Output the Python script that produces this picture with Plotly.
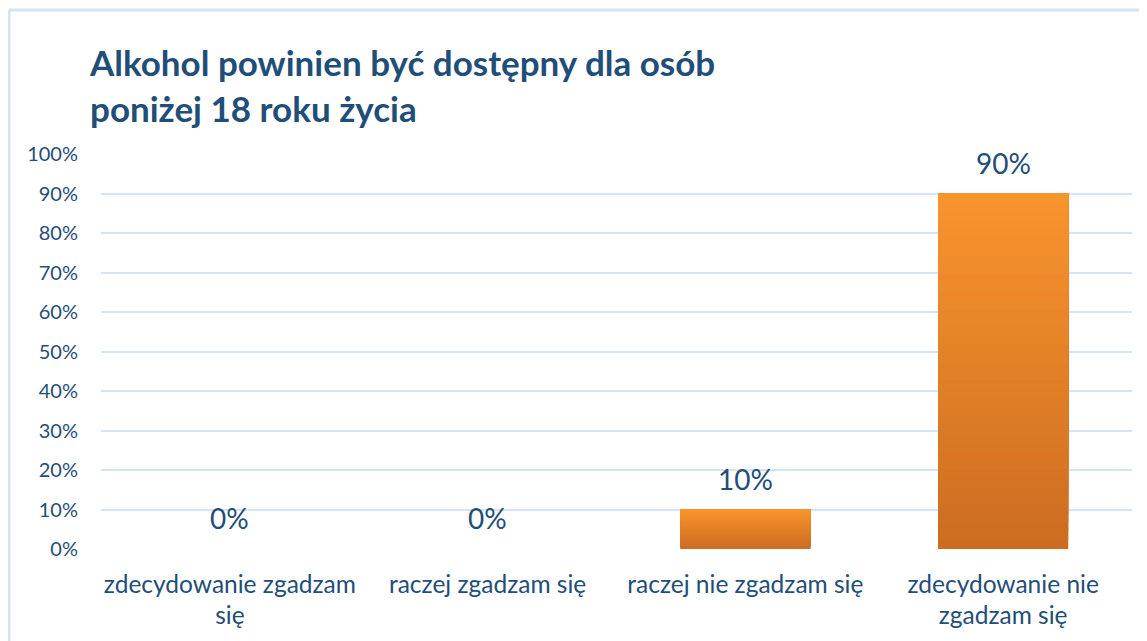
import plotly.graph_objects as go

categories = ["zdecydowanie zgadzam<br>się", "raczej zgadzam się", "raczej nie zgadzam się", "zdecydowanie nie<br>zgadzam się"]
values = [0, 0, 10, 90]
title_text = "Alkohol powinien być dostępny dla osób<br>poniżej 18 roku życia"
tick_vals = [0, 10, 20, 30, 40, 50, 60, 70, 80, 90, 100]
tick_text = [f"{v}%" for v in tick_vals]

TXT = "#1F4E79"
GRID = "#D6E3F3"
FONT = "Lato"

W, H = 1139, 633
ML, MR, MT, MB = 93, 15, 146, 92
PW, PH = W - ML - MR, H - MT - MB

top_rgb = (0xF9, 0x94, 0x2E)
bot_rgb = (0xCC, 0x6C, 0x20)
N = 40

fig = go.Figure()
for i in range(N):
    f = (i + 0.5) / N
    c = tuple(round(bot_rgb[k] + (top_rgb[k] - bot_rgb[k]) * f) for k in range(3))
    fig.add_trace(go.Bar(
        x=categories,
        y=[v * (1 - i / N) for v in values],
        base=[v * i / N for v in values],
        marker=dict(color=f"rgb{c}", line=dict(width=0)),
        width=0.505,
        hoverinfo="skip",
        showlegend=False,
    ))

annotations = [
    dict(x=cat, y=v, xref="x", yref="y", text=f"{v}%", showarrow=False,
         yanchor="bottom", yshift=12, font=dict(family=FONT, size=28, color=TXT))
    for cat, v in zip(categories, values)
]

fig.update_layout(
    width=W, height=H,
    barmode="overlay",
    paper_bgcolor="white", plot_bgcolor="white",
    margin=dict(l=ML, r=MR, t=MT, b=MB),
    title=dict(text=title_text, x=82 / W, xanchor="left", xref="container",
               y=1 - 68 / H, yanchor="top", yref="container",
               font=dict(family=FONT, size=35, color=TXT, weight="bold")),
    xaxis=dict(showgrid=False, zeroline=False, showline=False,
               tickfont=dict(family=FONT, size=24.5, color=TXT), ticks="",
               ticklabelstandoff=18),
    yaxis=dict(range=[0, 100], tickvals=tick_vals, ticktext=tick_text,
               showgrid=True, gridcolor=GRID, gridwidth=2, zeroline=False,
               showline=False, ticks="", ticklabelstandoff=22,
               tickfont=dict(family=FONT, size=20, color=TXT)),
    annotations=annotations,
    shapes=[
        dict(type="line", xref="paper", yref="paper", x0=(1 - ML) / PW, x1=1.2,
             y0=1 + (MT - 2) / PH, y1=1 + (MT - 2) / PH, line=dict(color=GRID, width=3)),
        dict(type="line", xref="paper", yref="paper", x0=(1 - ML) / PW, x1=(1 - ML) / PW,
             y0=1 + (MT - 2) / PH, y1=-0.5, line=dict(color=GRID, width=3)),
    ],
)

fig.write_html("out.html")
